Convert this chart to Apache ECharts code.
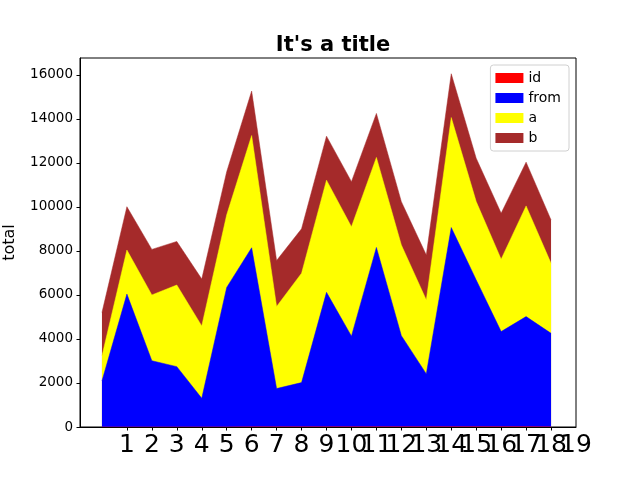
<!DOCTYPE html>
<html>
<head>
<meta charset="utf-8">
<script src="https://cdn.jsdelivr.net/npm/echarts@6/dist/echarts.min.js"></script>
<style>
  html, body { margin: 0; padding: 0; background: #fff; }
  #chart { width: 640px; height: 480px; }
</style>
</head>
<body>
<div id="chart"></div>
<script>
// row index on the x axis
const xs = [0, 1, 2, 3, 4, 5, 6, 7, 8, 9, 10, 11, 12, 13, 14, 15, 16, 17, 18];
const idVals = [0, 1, 2, 3, 4, 5, 6, 7, 8, 9, 10, 11, 12, 13, 14, 15, 16, 17, 18];
const fromVals = [2090, 6040, 3010, 2740, 1300, 6340, 8140, 1740, 2010, 6110, 4120, 8150, 4140, 2400, 9050, 6670, 4320, 5000, 4240];
const aVals = [1140, 2000, 2990, 3710, 3290, 3300, 5100, 3730, 4970, 5100, 4970, 4090, 4120, 3360, 5000, 3560, 3290, 5030, 3180];
const bVals = [1970, 1970, 2070, 1980, 2130, 1960, 2020, 2090, 2020, 2000, 2050, 2000, 1970, 2040, 1990, 1970, 2090, 1990, 1970];
const xTicks = [1, 2, 3, 4, 5, 6, 7, 8, 9, 10, 11, 12, 13, 14, 15, 16, 17, 18, 19];
const yTicks = [0, 2000, 4000, 6000, 8000, 10000, 12000, 14000, 16000];

const font = 'DejaVu Sans';

// echarts stacks the x dimension when both axes are value axes,
// so the running totals are summed here and each area is filled down to 0
const layers = [
  { name: 'id', vals: idVals, color: '#ff0000' },
  { name: 'from', vals: fromVals, color: '#0000ff' },
  { name: 'a', vals: aVals, color: '#ffff00' },
  { name: 'b', vals: bVals, color: '#a52a2a' }
];
let running = xs.map(() => 0);
layers.forEach(l => {
  running = running.map((s, i) => s + l.vals[i]);
  l.top = running.slice();
});

const series = layers.slice().reverse().map(l => ({
  name: l.name,
  type: 'line',
  symbol: 'none',
  color: l.color,
  lineStyle: { width: 0.5, color: l.color },
  areaStyle: { color: l.color, opacity: 1, origin: 'start' },
  data: xs.map((x, i) => [x, l.top[i]])
}));

const xLabelStyle = { fontFamily: font, fontSize: 25, color: '#000', margin: 6, hideOverlap: false };

const chart = echarts.init(document.getElementById('chart'));
chart.setOption({
  animation: false,
  textStyle: { fontFamily: font, color: '#000' },
  title: {
    text: "It's a title",
    left: 328,
    textAlign: 'center',
    top: 30,
    textStyle: { fontFamily: font, fontSize: 21, fontWeight: 'bold', color: '#000' }
  },
  legend: {
    orient: 'vertical',
    right: 71,
    top: 65,
    icon: 'rect',
    itemWidth: 28,
    itemHeight: 10,
    itemGap: 6,
    padding: [6, 8, 6, 5],
    borderColor: '#d0d0d0',
    borderWidth: 1,
    borderRadius: 3,
    textStyle: { fontFamily: font, fontSize: 14, color: '#000' },
    data: ['id', 'from', 'a', 'b']
  },
  grid: {
    left: 80, right: 64, top: 58, bottom: 53,
    outerBoundsMode: 'none',
    containLabel: false,
    show: true, borderColor: '#000', borderWidth: 1, backgroundColor: 'transparent'
  },
  xAxis: [
    {
      type: 'value',
      min: -0.88,
      max: 19,
      splitLine: { show: false },
      axisLine: { onZero: false, lineStyle: { color: '#000', width: 1 } },
      axisTick: { length: 3.5, lineStyle: { color: '#000' }, customValues: xTicks },
      // the last label would hide its neighbour, so it is drawn by the second axis
      axisLabel: Object.assign({ customValues: xTicks, showMaxLabel: false }, xLabelStyle)
    },
    {
      type: 'value',
      position: 'bottom',
      min: -0.88,
      max: 19,
      splitLine: { show: false },
      axisLine: { show: false, onZero: false },
      axisTick: { show: false },
      axisLabel: Object.assign({ customValues: xTicks.slice(-1), showMaxLabel: true }, xLabelStyle)
    }
  ],
  yAxis: {
    type: 'value',
    min: 0,
    max: 16770,
    name: 'total',
    nameLocation: 'middle',
    nameGap: 62,
    nameRotate: 90,
    nameTextStyle: { fontFamily: font, fontSize: 16, color: '#000' },
    splitLine: { show: false },
    axisLine: { show: true, onZero: false, lineStyle: { color: '#000', width: 1 } },
    axisTick: { show: true, length: 3.5, lineStyle: { color: '#000' }, customValues: yTicks },
    axisLabel: {
      fontFamily: font, fontSize: 13.5, color: '#000', margin: 7, customValues: yTicks,
      formatter: v => String(v)
    }
  },
  series: series
});
</script>
</body>
</html>
